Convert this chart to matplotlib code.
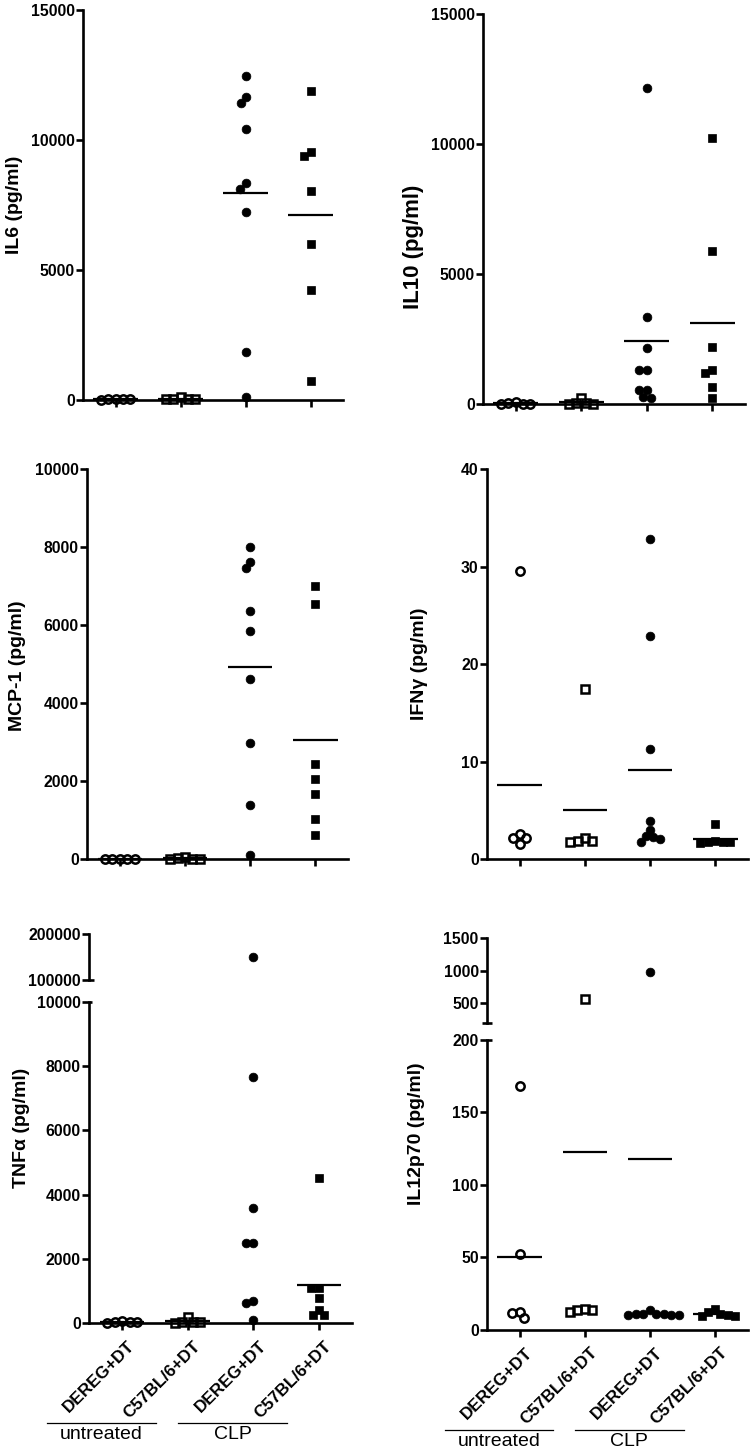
import numpy as np
import matplotlib
matplotlib.use("Agg")
import matplotlib.pyplot as plt
import matplotlib.transforms as mtransforms
from matplotlib.lines import Line2D

plt.rcParams['font.family'] = ['Liberation Sans', 'DejaVu Sans']

# ---------------- data ----------------
groups = ['DEREG+DT', 'C57BL/6+DT', 'DEREG+DT', 'C57BL/6+DT']
treatments = ['untreated', 'CLP']

il6_g1 = [15, 5, 10, 0, 8]
il6_g2 = [80, 10, 25, 5, 15]
il6_g3 = [12457, 11635, 11404, 10402, 8322, 8116, 7205, 1836, 80]
il6_g4 = [11892, 9375, 9516, 8039, 5985, 4212, 706]

il10_g1 = [90, 10, 20, 5, 15]
il10_g2 = [250, 30, 15, 20, 10]
il10_g3 = [12150, 3362, 2143, 1309, 1309, 539, 539, 218, 282]
il10_g4 = [10252, 5902, 2207, 1309, 1206, 642, 218]

mcp_g1 = [10, 5, 15, 8, 12]
mcp_g2 = [60, 20, 10, 30, 15]
mcp_g3 = [7993, 7472, 7626, 6371, 5850, 4611, 2972, 1392, 111]
mcp_g4 = [7011, 6533, 2434, 2050, 1682, 1033, 615]

ifn_g1 = [29.57, 2.22, 1.57, 2.56, 2.15]
ifn_g2 = [17.44, 1.91, 1.81, 2.15, 1.91]
ifn_g3 = [32.85, 22.94, 11.28, 3.93, 3.01, 2.26, 1.81, 2.39, 2.05]
ifn_g4 = [3.62, 1.75, 1.80, 1.70, 1.85, 1.75]

tnf_g1 = [60, 30, 20, 40, 25]
tnf_g2 = [200, 40, 30, 20, 35]
tnf_g3 = [150000, 7668, 3576, 2506, 2506, 693, 622, 103]
tnf_g4 = [4509, 1088, 1088, 796, 414, 258, 258]

il12_g1 = [168, 52, 12.3, 8.1, 11.6]
il12_g2 = [560, 13.2, 12.0, 14.4, 13.2]
il12_g3 = [975, 10.5, 10.0, 9.8, 10.2, 10.6, 11.0, 10.4, 13.4]
il12_g4 = [14.4, 10.0, 9.5, 10.5, 9.0, 12.0]

# ---------------- layout ----------------
W, H, DPI = 754, 1453, 100
fig = plt.figure(figsize=(W / DPI, H / DPI), dpi=DPI)
LW = 1.9
xpos = [1, 2, 3, 4]
mstyles = [
    dict(marker='o', mfc='none', mec='k', mew=1.8, ms=6.0),
    dict(marker='s', mfc='none', mec='k', mew=1.8, ms=5.6),
    dict(marker='o', mfc='k', mec='k', mew=0.5, ms=6.3),
    dict(marker='s', mfc='k', mec='k', mew=0.5, ms=5.9),
]
D = 7.5  # swarm spacing in pixels


def pax(l, t, r, b):
    return fig.add_axes([l / W, 1 - b / H, (r - l) / W, (b - t) / H])


def style(ax, ylim, yticks, bottom=True):
    ax.set_xlim(0.5, 4.5)
    ax.set_ylim(*ylim)
    ax.patch.set_visible(False)
    for s in ['top', 'right']:
        ax.spines[s].set_visible(False)
    ax.spines['left'].set_linewidth(LW)
    ax.spines['bottom'].set_linewidth(LW)
    if not bottom:
        ax.spines['bottom'].set_visible(False)
        ax.set_xticks([])
    else:
        ax.set_xticks(xpos)
        ax.set_xticklabels([])
    ax.set_yticks(yticks)
    ax.set_yticklabels([str(v) for v in yticks])
    ax.tick_params(axis='both', width=LW, length=5, labelsize=11.3, pad=1)
    for lab in ax.get_yticklabels():
        lab.set_fontweight('bold')


def swarm_offsets(ax, x0, vals):
    x0px = ax.transData.transform((x0, 0))[0]
    ppu = ax.transData.transform((x0 + 1, 0))[0] - x0px
    order = sorted(range(len(vals)), key=lambda i: -vals[i])
    placed = []
    offs = [0.0] * len(vals)
    for i in order:
        py = ax.transData.transform((x0, vals[i]))[1]
        cands = [0.0]
        for qx, qy in placed:
            dy = abs(py - qy)
            if dy < D:
                dx = np.sqrt(D * D - dy * dy)
                cands += [qx - x0px + dx + 1e-6, qx - x0px - dx - 1e-6]
        cands.sort(key=lambda c: (abs(c), c))
        chosen = 0.0
        for c in cands:
            if all((x0px + c - qx) ** 2 + (py - qy) ** 2 >= D * D - 1e-3 for qx, qy in placed):
                chosen = c
                break
        placed.append((x0px + chosen, py))
        offs[i] = chosen / ppu
    return offs


def draw(ax, data, lo, hi):
    for gi, vals in enumerate(data):
        sel = [v for v in vals if lo <= v <= hi]
        if sel:
            offs = swarm_offsets(ax, xpos[gi], sel)
            ax.plot([xpos[gi] + o for o in offs], sel, linestyle='none',
                    clip_on=False, zorder=3, **mstyles[gi])
        m = float(np.mean(vals))
        if lo <= m <= hi:
            ax.hlines(m, xpos[gi] - 0.34, xpos[gi] + 0.34, color='k', lw=1.6, zorder=2)


def ylabel(xpx, ypx, text, size=14):
    fig.text(xpx / W, 1 - ypx / H, text, rotation=90, ha='center', va='center',
             fontsize=size, fontweight='bold')


def cap(ax, yval, left_px, right_px):
    x0, y0 = ax.transData.transform((0.5, yval))
    fig.add_artist(Line2D([(x0 - left_px) / W, (x0 + right_px) / W], [y0 / H, y0 / H],
                          transform=fig.transFigure, color='k', lw=LW, solid_capstyle='butt'))


def bottom_labels(ax):
    ax.set_xticklabels(groups, rotation=45, ha='right', va='top', rotation_mode='anchor',
                       fontsize=12.3, fontweight='bold')
    ax.tick_params(axis='x', pad=6)
    off = mtransforms.ScaledTranslation(5 / DPI, 0, fig.dpi_scale_trans)
    for lab in ax.get_xticklabels():
        lab.set_transform(lab.get_transform() + off)
    hpx = ax.get_window_extent().height
    yline = -100.0 / hpx
    tr = ax.get_xaxis_transform()
    for k, name in enumerate(treatments):
        a, b = xpos[2 * k] - 1.15, xpos[2 * k + 1] - 0.48
        ax.plot([a, b], [yline, yline], transform=tr, color='k', lw=0.9, clip_on=False)
        ax.text((a + b) / 2, yline - 3.0 / hpx, name, transform=tr, ha='center', va='top',
                fontsize=14)


# Panel 1: IL6
ax = pax(83, 10, 343, 399.5)
style(ax, (0, 15000), [0, 5000, 10000, 15000])
draw(ax, [il6_g1, il6_g2, il6_g3, il6_g4], 0, 15000)
ylabel(15, 205, 'IL6 (pg/ml)')

# Panel 2: IL10
ax = pax(483, 14.3, 745, 404)
style(ax, (0, 15000), [0, 5000, 10000, 15000])
draw(ax, [il10_g1, il10_g2, il10_g3, il10_g4], 0, 15000)
ylabel(413, 247, 'IL10 (pg/ml)', size=16)

# Panel 3: MCP-1
ax = pax(87.3, 469, 348, 859.3)
style(ax, (0, 10000), [0, 2000, 4000, 6000, 8000, 10000])
draw(ax, [mcp_g1, mcp_g2, mcp_g3, mcp_g4], 0, 10000)
ylabel(18, 666, 'MCP-1 (pg/ml)')

# Panel 4: IFNg
ax = pax(487, 469.3, 748, 859.3)
style(ax, (0, 40), [0, 10, 20, 30, 40])
draw(ax, [ifn_g1, ifn_g2, ifn_g3, ifn_g4], 0, 40)
ylabel(419, 664, 'IFNγ (pg/ml)')

# Panel 5: TNFa (broken axis)
tnf = [tnf_g1, tnf_g2, tnf_g3, tnf_g4]
axu = pax(89.3, 933.7, 351.7, 980)
style(axu, (100000, 200000), [100000, 200000], bottom=False)
draw(axu, tnf, 100000, 200000)
cap(axu, 100000, 0, 5)
axl = pax(89.3, 1001.7, 351.7, 1323.3)
style(axl, (0, 10000), [0, 2000, 4000, 6000, 8000, 10000])
draw(axl, tnf, 0, 10000)
cap(axl, 10000, 0, 3)
bottom_labels(axl)
ylabel(22, 1128, 'TNFα (pg/ml)')

# Panel 6: IL12p70 (broken axis)
il12 = [il12_g1, il12_g2, il12_g3, il12_g4]
axu = pax(487, 937.7, 747.7, 1023)
style(axu, (200, 1500), [500, 1000, 1500], bottom=False)
draw(axu, il12, 200, 1500)
cap(axu, 200, 5, 5)
axl = pax(487, 1040, 747.7, 1329.5)
style(axl, (0, 200), [0, 50, 100, 150, 200])
draw(axl, il12, 0, 200)
cap(axl, 200, 0, 5)
bottom_labels(axl)
ylabel(417, 1134, 'IL12p70 (pg/ml)')

fig.savefig('out.png', dpi=DPI)
